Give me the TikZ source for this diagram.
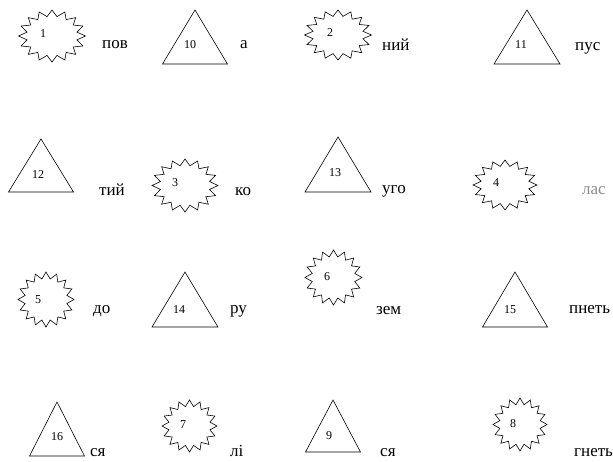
\documentclass[tikz,border=0pt]{standalone}
\usepackage{fontspec}
\setmainfont{Liberation Serif}
\tikzset{
  word/.style={anchor=base west, inner sep=0pt, font=\fontsize{17}{20}\selectfont},
  num/.style={inner sep=0pt, font=\fontsize{12}{14}\selectfont},
  outline/.style={draw=black, line width=0.6pt, line join=miter},
}
\newcommand\myburst[4]{%
  \draw[outline] ({#1+#3},{#2}) \foreach \k in {1,...,31}{ -- ({#1+#3*(1-0.24*mod(\k,2))*cos(\k*11.25)},{#2+#4*(1-0.24*mod(\k,2))*sin(\k*11.25)}) } -- cycle;}
\newcommand\mytri[4]{% apex x, apex y, half base, base y
  \draw[outline] (#1,#2) -- ({#1-#3},#4) -- ({#1+#3},#4) -- cycle;}
\begin{document}
\begin{tikzpicture}[x=1pt,y=-1pt]
\clip (0,0) rectangle (613,461);
\fill[white] (0,0) rectangle (613,461);
% row 1
\myburst{52}{36}{33.5}{26}
\node[num] (n1) at (43,34) {1};
\node[word] (w1) at (102,48) {пов};
\mytri{195}{10}{32.5}{64}
\node[num] (n10) at (190,45) {10};
\node[word] (w10) at (240,48) {а};
\myburst{338}{35}{33.5}{25}
\node[num] (n2) at (330,33) {2};
\node[word] (w2) at (382,50) {ний};
\mytri{527}{10}{33}{64}
\node[num] (n11) at (521,45) {11};
\node[word] (w11) at (575,50) {пус};
% row 2
\mytri{41}{139}{32.5}{192}
\node[num] (n12) at (38,175) {12};
\node[word] (w12) at (99,195) {тий};
\myburst{185}{185.5}{33}{26.5}
\node[num] (n3) at (175,183) {3};
\node[word] (w3) at (235,195) {ко};
\mytri{338}{137}{33}{192}
\node[num] (n13) at (335,173) {13};
\node[word] (w13) at (382,193) {уго};
\myburst{505}{185}{32}{25}
\node[num] (n4) at (496,183) {4};
\node[word, text=black!45] (w4) at (582,194) {лас};
% row 3
\myburst{46}{299.5}{28}{27.5}
\node[num] (n5) at (38,300) {5};
\node[word] (w5) at (93,313) {до};
\mytri{185}{272}{33}{327}
\node[num] (n14) at (179,310) {14};
\node[word] (w14) at (230,313) {ру};
\myburst{333.5}{277.5}{28.5}{27.5}
\node[num] (n6) at (327,277) {6};
\node[word] (w6) at (376,314) {зем};
\mytri{515}{272}{32.5}{327}
\node[num] (n15) at (510,310) {15};
\node[word] (w15) at (569,313) {пнеть};
% row 4
\mytri{57}{402}{27.5}{456}
\node[num] (n16) at (57,437) {16};
\node[word] (w16) at (90,456) {ся};
\myburst{189.5}{426}{27.5}{26}
\node[num] (n7) at (183,425) {7};
\node[word] (w7) at (230,456) {лі};
\mytri{333}{400}{27.5}{452}
\node[num] (n9) at (329,436) {9};
\node[word] (w9) at (380,456) {ся};
\myburst{520}{424.5}{27}{26.5}
\node[num] (n8) at (513,424) {8};
\node[word] (w8) at (574,456) {гнеть};
\end{tikzpicture}
\end{document}
